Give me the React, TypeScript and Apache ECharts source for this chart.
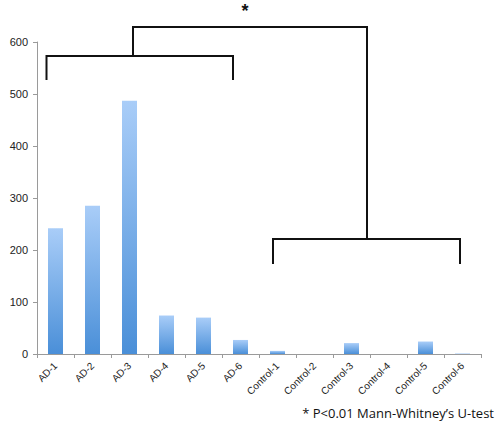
import React, { useEffect, useRef } from "react";
import * as echarts from "echarts";

const categories = [
  "AD-1", "AD-2", "AD-3", "AD-4", "AD-5", "AD-6",
  "Control-1", "Control-2", "Control-3", "Control-4", "Control-5", "Control-6",
];
const values = [242, 285, 487, 74, 70, 27, 6, 0, 21, 0, 24, 1];
const yTicks = [0, 100, 200, 300, 400, 500, 600];
const footnote = "* P<0.01 Mann-Whitney\u2019s U-test";

export default function App() {
  const ref = useRef<HTMLDivElement>(null);
  useEffect(() => {
    if (!ref.current) return;
    const chart = echarts.init(ref.current, null, { renderer: "svg" });
    const lineStyle = { stroke: "#111", lineWidth: 2 };
    const seg = (x1: number, y1: number, x2: number, y2: number) => ({
      type: "line",
      shape: { x1, y1, x2, y2 },
      style: lineStyle,
      z: 10,
    });
    chart.setOption({
      animation: false,
      backgroundColor: "#fff",
      grid: { left: 37, right: 17, top: 42, bottom: 70, containLabel: false },
      xAxis: {
        type: "category",
        data: categories,
        boundaryGap: true,
        axisLine: { lineStyle: { color: "#9a9a9a", width: 1 } },
        axisTick: { show: true, length: 4, lineStyle: { color: "#9a9a9a" } },
        axisLabel: {
          rotate: 45,
          fontSize: 10,
          color: "#222",
          fontFamily: "Liberation Sans",
          interval: 0,
          margin: 10,
        },
      },
      yAxis: {
        type: "value",
        min: yTicks[0],
        max: yTicks[yTicks.length - 1],
        interval: 100,
        splitLine: { show: false },
        axisLine: { show: true, lineStyle: { color: "#9a9a9a", width: 1 } },
        axisTick: { show: true, length: 4, lineStyle: { color: "#9a9a9a" } },
        axisLabel: {
          fontSize: 11,
          color: "#222",
          fontFamily: "Liberation Sans",
          margin: 9,
        },
      },
      series: [
        {
          type: "bar",
          data: values,
          barWidth: 15,
          itemStyle: {
            color: new echarts.graphic.LinearGradient(0, 0, 0, 1, [
              { offset: 0, color: "#a9cdf8" },
              { offset: 1, color: "#4a8fd8" },
            ]),
          },
        },
      ],
      graphic: [
        // top bracket
        seg(133, 27, 367, 27),
        seg(133, 26, 133, 56),
        seg(367, 26, 367, 239),
        // AD bracket
        seg(46.5, 56, 233, 56),
        seg(46.5, 55, 46.5, 80),
        seg(233, 55, 233, 80),
        // Control bracket
        seg(273, 239, 460, 239),
        seg(273, 238, 273, 264),
        seg(460, 238, 460, 264),
        {
          type: "text",
          x: 245,
          y: 11,
          style: {
            text: "*",
            fontSize: 18,
            fontWeight: "bold",
            fill: "#111",
            align: "center",
            verticalAlign: "middle",
            fontFamily: "Liberation Sans",
          },
        },
        {
          type: "text",
          x: 494,
          y: 413,
          style: {
            text: footnote,
            fontSize: 13,
            fill: "#111",
            align: "right",
            verticalAlign: "middle",
            fontFamily: "Open Sans",
          },
        },
      ],
    });
    return () => chart.dispose();
  }, []);
  return <div ref={ref} style={{ width: 498, height: 424, position: "absolute", left: 0, top: 0 }} />;
}
